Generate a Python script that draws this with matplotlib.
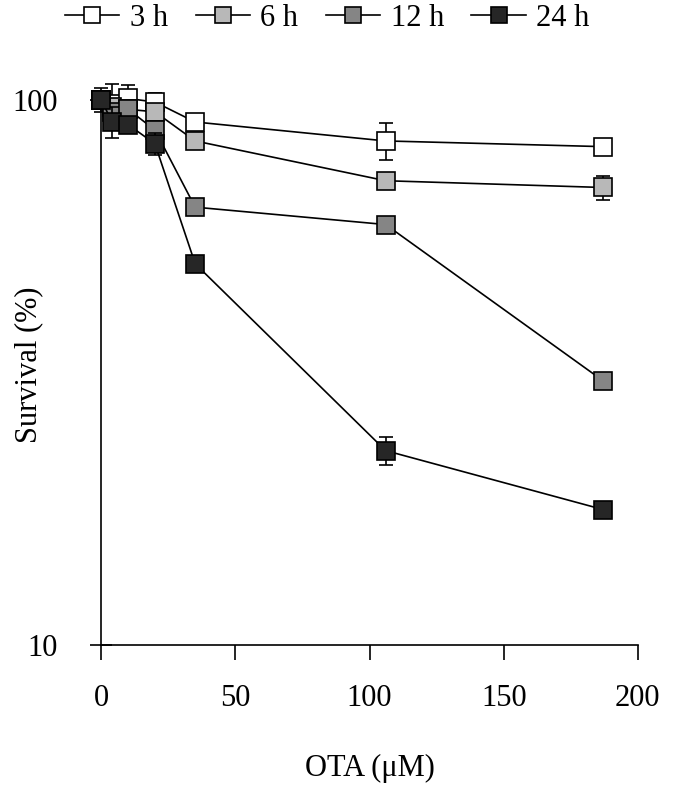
import matplotlib
matplotlib.use("Agg")
import matplotlib.pyplot as plt
from matplotlib.lines import Line2D

# OTA concentrations (uM)
ota = [0, 4, 10, 20, 35, 106, 187]

# Survival (%) per exposure time
surv_3h = [100, 98, 100.5, 99, 91, 84, 82]
surv_6h = [100, 97, 96, 95, 84, 71, 69]
surv_12h = [100, 95, 96, 88, 63.5, 59, 30.5]
surv_24h = [100, 91, 90, 83, 50, 22.7, 17.7]

err_3h = [5, 9, 6, 4, 0, 6.5, 0]
err_6h = [3, 3, 3, 3, 0, 0, 3.5]
err_12h = [3, 3, 2, 2, 0, 0, 0]
err_24h = [3, 6, 2, 4, 0, 1.3, 0.6]

labels = ["3 h", "6 h", "12 h", "24 h"]
colors = ["#ffffff", "#b8b8b8", "#858585", "#262626"]

plt.rcParams["font.family"] = ["Liberation Serif", "DejaVu Serif"]

fig = plt.figure(figsize=(6.75, 7.91), dpi=100)
ax = fig.add_axes([0.150, 0.185, 0.795, 0.689])

series = [surv_3h, surv_6h, surv_12h, surv_24h]
errors = [err_3h, err_6h, err_12h, err_24h]
handles = []
for i, (y, e) in enumerate(zip(series, errors)):
    ax.errorbar(ota, y, yerr=e, color="black", lw=1.2, marker="s",
                ms=12.5, mfc=colors[i], mec="black", mew=1.2,
                ecolor="black", elinewidth=1.2, capsize=5, capthick=1.2,
                clip_on=False, zorder=3 + i)
    handles.append(Line2D([], [], color="black", lw=1.2, marker="s", ms=11.5,
                          mfc=colors[i], mec="black", mew=1.2))

ax.set_yscale("log")
ax.set_ylim(10, 100)
ax.set_xlim(0, 200)
ax.set_yticks([10, 100])
ax.set_yticklabels(["10", "100"])
ax.minorticks_off()
ax.set_xticks([0, 50, 100, 150, 200])

for s in ["top", "right"]:
    ax.spines[s].set_visible(False)
ax.spines["left"].set_linewidth(1.2)
ax.spines["bottom"].set_linewidth(1.2)

ax.tick_params(axis="x", direction="out", length=11, width=1.2,
               labelsize=22, pad=17)
ax.tick_params(axis="y", direction="inout", length=16, width=1.2,
               labelsize=22, pad=23)

ax.set_xlabel("OTA (\u03bcM)", fontsize=22)
ax.xaxis.set_label_coords(0.5, -0.20)
ax.set_ylabel("Survival (%)", fontsize=22)
ax.yaxis.set_label_coords(-0.108, 0.514)

fig.legend(handles=handles, labels=labels, loc="center",
           bbox_to_anchor=(0.485, 0.977), ncol=4, frameon=False,
           fontsize=22, handlelength=1.77, handletextpad=0.35,
           columnspacing=0.9)

fig.savefig("out.png", dpi=100)
